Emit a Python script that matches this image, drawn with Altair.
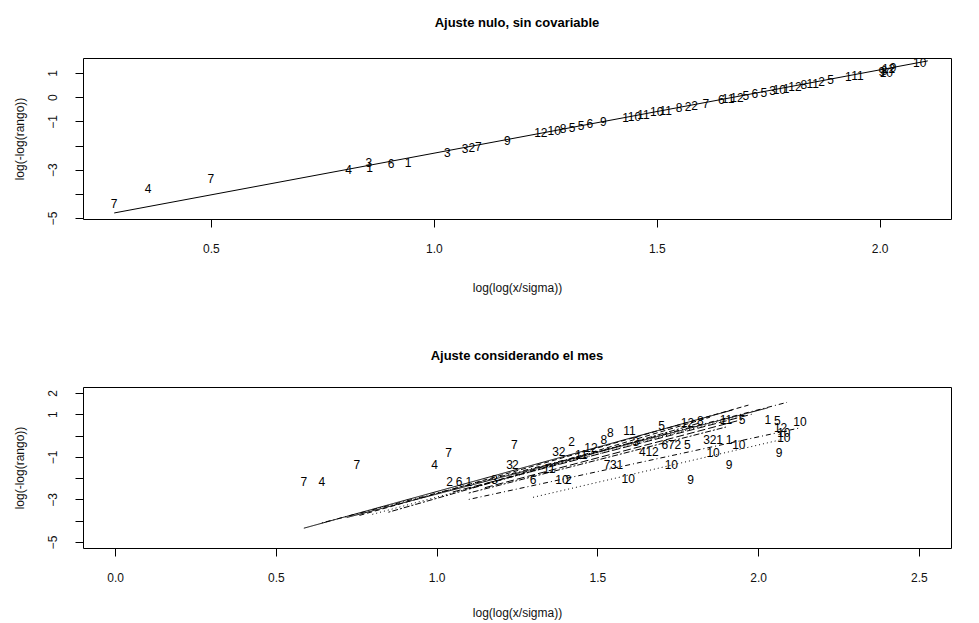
import altair as alt
import pandas as pd

FONT = "Liberation Sans"

# ---------------- top panel: null fit ----------------
top_x = [0.283, 0.359, 0.500, 0.809, 0.854, 0.856, 0.904, 0.942, 1.030, 1.070, 1.085, 1.100, 1.165,
         1.240, 1.270, 1.290, 1.310, 1.330, 1.350, 1.380,
         1.430, 1.450, 1.470, 1.500, 1.520,
         1.550, 1.570, 1.585, 1.610,
         1.645, 1.660, 1.680, 1.700, 1.720, 1.740, 1.760, 1.775,
         1.790, 1.810, 1.830, 1.850, 1.870, 1.890, 1.930, 1.950,
         2.005, 2.010, 2.015, 2.020, 2.030, 2.090]
top_y = [-4.41, -3.79, -3.38, -3.00, -2.72, -2.95, -2.78, -2.72, -2.30, -2.15, -2.10, -2.05, -1.80,
         -1.50, -1.40, -1.33, -1.26, -1.19, -1.13, -1.02,
         -0.86, -0.80, -0.74, -0.62, -0.56,
         -0.45, -0.40, -0.35, -0.27,
         -0.13, -0.08, -0.02, 0.05, 0.12, 0.18, 0.25, 0.30,
         0.35, 0.42, 0.49, 0.56, 0.63, 0.70, 0.82, 0.88,
         1.05, 1.10, 1.02, 1.15, 1.20, 1.41]
top_lab = ["7", "4", "7", "4", "3", "1", "6", "1", "3", "3", "2", "7", "9",
           "12", "10", "8", "5", "5", "6", "9",
           "1", "10", "11", "10", "11",
           "8", "2", "2", "7",
           "6", "11", "12", "5", "6", "5", "3", "10",
           "1", "12", "8", "11", "2", "5", "1", "11",
           "9", "8", "10", "12", "9", "10"]
top_fit_x = [0.283, 2.108]
top_fit_y = [-4.79, 1.50]

# ---------------- bottom panel: fit by month ----------------
bot_x = [0.587, 0.643, 0.752, 0.994, 1.037, 1.040, 1.070, 1.100, 1.180, 1.227, 1.245, 1.242,
         1.300, 1.390, 1.410, 1.420, 1.370, 1.390, 1.596, 1.730, 1.790, 1.910, 1.860, 1.940,
         2.065, 2.080, 2.080, 2.070, 2.060, 2.030, 2.130, 1.530, 1.550, 1.570, 1.710, 1.730,
         1.750, 1.780, 1.840, 1.860, 1.880, 1.910, 1.540, 1.640, 1.660, 1.680, 1.450, 1.480,
         1.600, 1.700, 1.780, 1.820, 1.900, 1.950, 1.520, 1.620, 1.350]
bot_y = [-2.20, -2.16, -1.37, -1.37, -0.81, -2.20, -2.20, -2.20, -2.07, -1.37, -1.37, -0.44,
         -2.07, -2.07, -2.07, -0.30, -0.77, -0.77, -2.06, -1.37, -2.07, -1.36, -0.81, -0.44,
         -0.81, -0.10, 0.10, 0.35, 0.70, 0.72, 0.65, -1.37, -1.37, -1.37, -0.44, -0.44,
         -0.44, -0.44, -0.20, -0.20, -0.20, -0.20, 0.10, -0.77, -0.77, -0.77, -0.90, -0.60,
         0.20, 0.45, 0.60, 0.70, 0.72, 0.72, -0.20, -0.30, -1.55]
bot_lab = ["7", "4", "7", "4", "7", "2", "6", "1", "3", "3", "2", "7",
           "6", "10", "2", "2", "3", "2", "10", "10", "9", "9", "10", "10",
           "9", "10", "10", "12", "5", "1", "10", "7", "3", "1", "6", "7",
           "2", "5", "3", "2", "1", "1", "8", "4", "1", "2", "11", "12",
           "11", "5", "12", "8", "11", "5", "8", "3", "11"]

line_mes = ["7", "4", "1", "2", "3", "6", "5", "8", "11", "12", "10", "9"]
line_x0 = [0.587, 0.643, 0.72, 0.76, 0.80, 0.85, 1.05, 1.10, 1.15, 1.10, 1.10, 1.30]
line_y0 = [-4.35, -4.10, -3.85, -3.75, -3.70, -3.60, -2.65, -2.50, -2.45, -2.70, -3.00, -2.90]
line_x1 = [1.92, 2.09, 2.03, 1.97, 1.95, 1.82, 1.98, 1.85, 1.95, 1.90, 2.13, 2.07]
line_y1 = [1.20, 1.56, 1.30, 1.43, 0.95, 0.60, 1.00, 0.86, 0.75, 0.40, 0.36, -0.20]

mes_order = ["1", "2", "3", "4", "5", "6", "7", "8", "9", "10", "11", "12"]
dash_styles = [[1, 0], [5, 3], [1, 3], [1, 3, 5, 3], [8, 3], [2, 2, 6, 2],
               [1, 0], [5, 3], [1, 3], [1, 3, 5, 3], [8, 3], [2, 2, 6, 2]]

# ---------------- tables ----------------
top_pts = pd.DataFrame({"x": top_x, "y": top_y, "lab": top_lab})
top_fit = pd.DataFrame({"x": top_fit_x, "y": top_fit_y})
bot_pts = pd.DataFrame({"x": bot_x, "y": bot_y, "lab": bot_lab})
rows = []
for m, a, b, c, d in zip(line_mes, line_x0, line_y0, line_x1, line_y1):
    rows.append({"mes": m, "x": a, "y": b, "o": 0})
    rows.append({"mes": m, "x": c, "y": d, "o": 1})
bot_lines = pd.DataFrame(rows)

axis_common = dict(domain=False, grid=False, ticks=True, tickColor="black", tickSize=8,
                   labelFont=FONT, labelFontSize=12, labelColor="#111",
                   titleFont=FONT, titleFontSize=12, titleFontWeight="normal", titleColor="#111",
                   labelOverlap=False, labelFlush=False)

W, H = 868, 161


def xaxis(vals, tpad):
    return alt.Axis(values=vals, format=".1f", labelPadding=16, titlePadding=tpad,
                    title="log(log(x/sigma))", **axis_common)


def yaxis(vals, hide):
    cond = " || ".join("datum.value == " + str(h) for h in hide)
    expr = "(" + cond + ") ? '' : datum.label"
    return alt.Axis(values=vals, labelAngle=270, labelAlign="center", labelBaseline="bottom",
                    labelPadding=16, titlePadding=20, labelExpr=expr,
                    title="log(-log(rango))", **axis_common)


xs_top = alt.Scale(domain=[0.213, 2.16], nice=False, zero=False)
ys_top = alt.Scale(domain=[-5.04, 1.62], nice=False, zero=False)
xs_bot = alt.Scale(domain=[-0.1, 2.6], nice=False, zero=False)
ys_bot = alt.Scale(domain=[-5.28, 2.28], nice=False, zero=False)

X_top = alt.X("x:Q", scale=xs_top, axis=xaxis([0.5, 1.0, 1.5, 2.0], 28))
Y_top = alt.Y("y:Q", scale=ys_top, axis=yaxis([-5, -4, -3, -2, -1, 0, 1], [-4, -2]))
X_bot = alt.X("x:Q", scale=xs_bot, axis=xaxis([0.0, 0.5, 1.0, 1.5, 2.0, 2.5], 24))
Y_bot = alt.Y("y:Q", scale=ys_bot, axis=yaxis([-5, -4, -3, -2, -1, 0, 1, 2], [-4, -2, 0]))

top_line = alt.Chart(top_fit).mark_line(color="black", strokeWidth=1).encode(x=X_top, y=Y_top)
top_text = alt.Chart(top_pts).mark_text(font=FONT, fontSize=12, color="black").encode(
    x=X_top, y=Y_top, text="lab:N")

top = alt.layer(top_line, top_text).properties(
    width=W, height=H,
    title=alt.TitleParams("Ajuste nulo, sin covariable", font=FONT, fontSize=13,
                          fontWeight="bold", anchor="middle", offset=27, color="black"))

bot_line = alt.Chart(bot_lines).mark_line(color="black", strokeWidth=1).encode(
    x=X_bot, y=Y_bot,
    detail="mes:N",
    order="o:Q",
    strokeDash=alt.StrokeDash("mes:N", scale=alt.Scale(domain=mes_order, range=dash_styles),
                              legend=None),
)
bot_text = alt.Chart(bot_pts).mark_text(font=FONT, fontSize=12, color="black").encode(
    x=X_bot, y=Y_bot, text="lab:N")

bottom = alt.layer(bot_line, bot_text).properties(
    width=W, height=H,
    title=alt.TitleParams("Ajuste considerando el mes", font=FONT, fontSize=13,
                          fontWeight="bold", anchor="middle", offset=24, color="black"))

chart = alt.vconcat(top, bottom, spacing=55).properties(
    padding={"left": 12, "top": 16, "right": 5, "bottom": 5},
    background="white",
).configure_view(stroke="black", strokeWidth=1).resolve_scale(x="independent", y="independent")

chart.save("out.html", embed_options={"renderer": "svg", "actions": False})
